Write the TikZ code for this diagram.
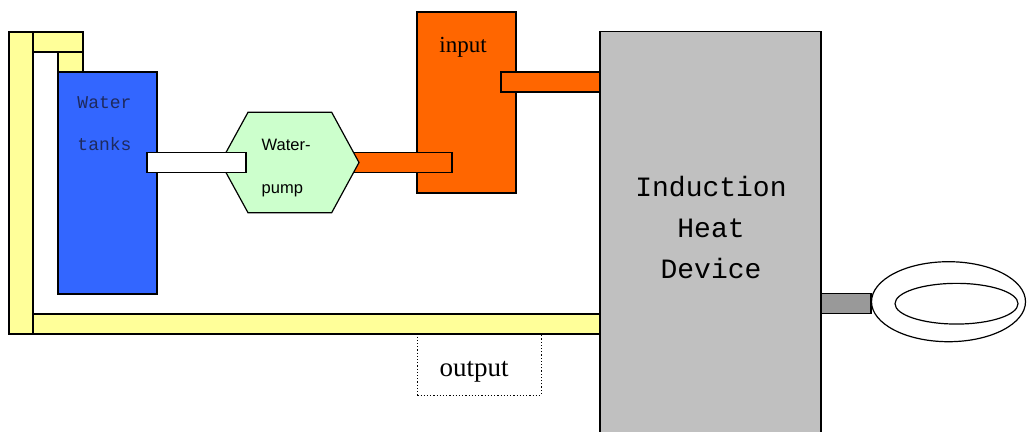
\documentclass[tikz,border=0pt]{standalone}
\usepackage{fontspec}
\setmainfont{Liberation Serif}
\newfontfamily\monof{Liberation Mono}
\newfontfamily\sansf{Liberation Sans}
\usetikzlibrary{shapes.geometric}
\definecolor{yellowc}{HTML}{FFFF99}
\definecolor{bluec}{HTML}{3366FF}
\definecolor{orangec}{HTML}{FF6600}
\definecolor{greenc}{HTML}{CCFFCC}
\definecolor{grayc}{HTML}{C0C0C0}
\definecolor{dgrayc}{HTML}{999999}
\definecolor{tanktext}{HTML}{1E2A5E}
\begin{document}
\begin{tikzpicture}[x=1pt,y=-1pt,
  box/.style={draw, line width=1.2pt, inner sep=0pt, outer sep=0pt, anchor=north west},
  lbl/.style={inner sep=0pt, anchor=base}]
\useasboundingbox (0,0) rectangle (1027,431);
\begin{scope}
\clip (0,0) rectangle (1027,431);
% yellow return pipes
\node[box, fill=yellowc, minimum width=24pt, minimum height=302pt] (pipeL) at (9,32) {};
\node[box, fill=yellowc, minimum width=50pt, minimum height=20pt] (pipeT) at (33,32) {};
\node[box, fill=yellowc, minimum width=25pt, minimum height=20pt] (pipeS) at (58,52) {};
\node[box, fill=yellowc, minimum width=567pt, minimum height=20pt] (pipeB) at (33,314) {};
% water tank
\node[box, fill=bluec, minimum width=99pt, minimum height=222pt] (tank) at (58,72) {};
\node[lbl, font=\monof\fontsize{18}{18}\selectfont, text=tanktext] (tankA) at (104.5,108) {Water};
\node[lbl, font=\monof\fontsize{18}{18}\selectfont, text=tanktext] (tankB) at (104.5,150) {tanks};
% input box
\node[box, fill=orangec, minimum width=99pt, minimum height=181pt] (inbox) at (417,12) {};
\node[lbl, font=\fontsize{23}{23}\selectfont] (inlbl) at (463,52) {input};
% pipe pump -> input
\node[box, fill=orangec, minimum width=102pt, minimum height=20.5pt] (pipeP) at (350,152.3) {};
% pipe input -> device
\node[box, fill=orangec, minimum width=99pt, minimum height=20pt] (pipeI) at (501,72) {};
% pump hexagon
\draw[line width=1.2pt, fill=greenc] (220.5,162.5) -- (248,112.3) -- (331.7,112.3) -- (359,162.5)
  -- (331.7,212.7) -- (248,212.7) -- cycle;
\coordinate (pumpc) at (290,162.5);
\node[lbl, anchor=base west, font=\sansf\fontsize{16.5}{16.5}\selectfont] (pumpA) at (261.5,150) {Water-};
\node[lbl, anchor=base west, font=\sansf\fontsize{16.5}{16.5}\selectfont] (pumpB) at (261.5,193) {pump};
% white pipe tank -> pump
\node[box, fill=white, minimum width=99pt, minimum height=20.5pt] (pipeW) at (147,152.3) {};
% induction heat device
\node[box, fill=grayc, minimum width=221pt, minimum height=420pt] (device) at (600,31.5) {};
\node[lbl, font=\monof\fontsize{28}{28}\selectfont] (devA) at (711,196.5) {Induction};
\node[lbl, font=\monof\fontsize{28}{28}\selectfont] (devB) at (711,237.5) {Heat};
\node[lbl, font=\monof\fontsize{28}{28}\selectfont] (devC) at (711,278.5) {Device};
% coil connector and coil
\node[box, fill=dgrayc, minimum width=50pt, minimum height=20pt] (pipeC) at (821,293.3) {};
\node[ellipse, draw, fill=white, line width=1.2pt, inner sep=0pt, minimum width=154pt, minimum height=80pt] (coilO) at (948.5,301.7) {};
\node[ellipse, draw, line width=1.2pt, inner sep=0pt, minimum width=123pt, minimum height=40.7pt] (coilI) at (956.5,303.7) {};
% output
\node[box, dotted, line width=1pt, minimum width=123.7pt, minimum height=60.7pt] (outbox) at (417.3,334.3) {};
\node[lbl, font=\fontsize{27}{27}\selectfont] (outlbl) at (474,376) {output};
\end{scope}
\end{tikzpicture}
\end{document}
